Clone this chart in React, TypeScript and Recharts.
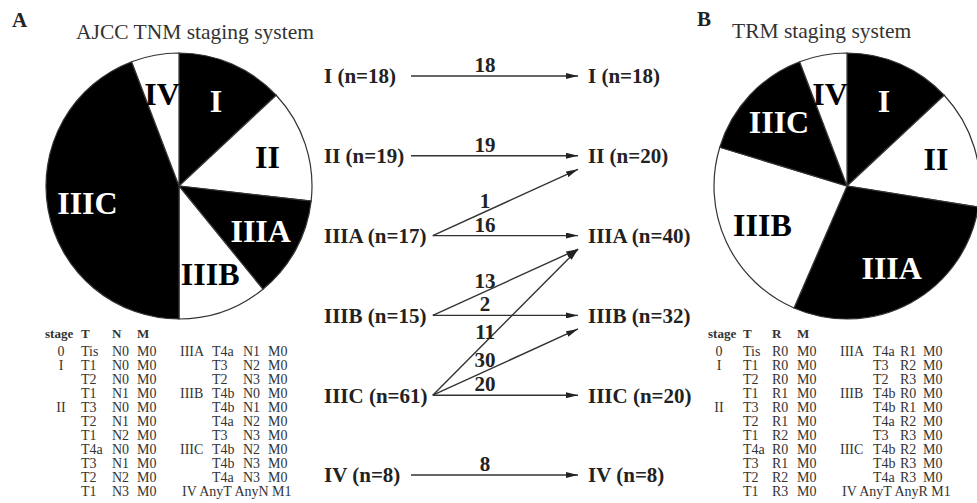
import React from "react";
import { PieChart, Pie, Cell, ComposedChart, Line, Scatter, XAxis, YAxis } from "recharts";

const SERIF = "'Liberation Serif', 'Times New Roman', serif";
const INK = "#222";

const STAGES = ["I", "II", "IIIA", "IIIB", "IIIC", "IV"];

// how the patients moved from the AJCC stage (left) to the TRM stage (right)
const FLOW_FROM = ["I", "II", "IIIA", "IIIA", "IIIB", "IIIB", "IIIC", "IIIC", "IIIC", "IV"];
const FLOW_TO = ["I", "II", "II", "IIIA", "IIIA", "IIIB", "IIIA", "IIIB", "IIIC", "IV"];
const FLOW_COUNT = [18, 19, 1, 16, 13, 2, 11, 30, 20, 8];

const SLICE_FILL = ["#000", "#fff", "#000", "#fff", "#000", "#fff"];

const AJCC_LEFT = [
  ["0", "Tis", "N0", "M0"], ["I", "T1", "N0", "M0"], ["", "T2", "N0", "M0"], ["", "T1", "N1", "M0"],
  ["II", "T3", "N0", "M0"], ["", "T2", "N1", "M0"], ["", "T1", "N2", "M0"], ["", "T4a", "N0", "M0"],
  ["", "T3", "N1", "M0"], ["", "T2", "N2", "M0"], ["", "T1", "N3", "M0"],
];
const AJCC_RIGHT = [
  ["IIIA", "T4a", "N1", "M0"], ["", "T3", "N2", "M0"], ["", "T2", "N3", "M0"], ["IIIB", "T4b", "N0", "M0"],
  ["", "T4b", "N1", "M0"], ["", "T4a", "N2", "M0"], ["", "T3", "N3", "M0"], ["IIIC", "T4b", "N2", "M0"],
  ["", "T4b", "N3", "M0"], ["", "T4a", "N3", "M0"],
];
const AJCC_LAST = "IV AnyT AnyN M1";

const TRM_LEFT = [
  ["0", "Tis", "R0", "M0"], ["I", "T1", "R0", "M0"], ["", "T2", "R0", "M0"], ["", "T1", "R1", "M0"],
  ["II", "T3", "R0", "M0"], ["", "T2", "R1", "M0"], ["", "T1", "R2", "M0"], ["", "T4a", "R0", "M0"],
  ["", "T3", "R1", "M0"], ["", "T2", "R2", "M0"], ["", "T1", "R3", "M0"],
];
const TRM_RIGHT = [
  ["IIIA", "T4a", "R1", "M0"], ["", "T3", "R2", "M0"], ["", "T2", "R3", "M0"], ["IIIB", "T4b", "R0", "M0"],
  ["", "T4b", "R1", "M0"], ["", "T4a", "R2", "M0"], ["", "T3", "R3", "M0"], ["IIIC", "T4b", "R2", "M0"],
  ["", "T4b", "R3", "M0"], ["", "T4a", "R3", "M0"],
];
const TRM_LAST = "IV AnyT AnyR M1";

// derived totals
const outN = STAGES.map((s) => FLOW_COUNT.reduce((a, c, i) => (FLOW_FROM[i] === s ? a + c : a), 0));
const inN = STAGES.map((s) => FLOW_COUNT.reduce((a, c, i) => (FLOW_TO[i] === s ? a + c : a), 0));
const branches = (s: string) => FLOW_FROM.filter((f) => f === s).length;

const ajccData = STAGES.map((s, i) => ({ name: s, value: outN[i] }));
const trmData = STAGES.map((s, i) => ({ name: s, value: inN[i] }));

// layout of the middle panel, in axis units
const SOLO_START = -0.15; // a straight run starts closer to its label than a fan does
const ARRIVE_OFFSET = 0.17; // crossing arrows land just under the target label
const LABEL_X = 0.36;

const flows = FLOW_FROM.map((f, i) => {
  const y0 = STAGES.indexOf(f);
  const t = STAGES.indexOf(FLOW_TO[i]);
  const y1 = t === y0 ? t : t + ARRIVE_OFFSET * Math.sign(y0 - t);
  const x0 = branches(f) > 1 ? 0 : SOLO_START;
  return {
    points: [{ x: x0, y: y0 }, { x: 1, y: y1 }],
    label: { x: LABEL_X, y: y0 + ((y1 - y0) * (LABEL_X - x0)) / (1 - x0), count: FLOW_COUNT[i] },
  };
});

const RAD = Math.PI / 180;
const pieLabel = (p: any) => {
  const r = p.outerRadius * 0.7;
  const x = p.cx + r * Math.cos(-p.midAngle * RAD);
  const y = p.cy + r * Math.sin(-p.midAngle * RAD);
  return (
    <text x={x} y={y} textAnchor="middle" dominantBaseline="central" fontFamily={SERIF}
      fontWeight="bold" fontSize={32} fill={SLICE_FILL[p.index] === "#000" ? "#fff" : "#000"}>
      {STAGES[p.index]}
    </text>
  );
};

function StagePie({ data }: { data: { name: string; value: number }[] }) {
  return (
    <PieChart width={280} height={280} margin={{ top: 0, right: 0, bottom: 0, left: 0 }}>
      <Pie data={data} dataKey="value" nameKey="name" cx={140} cy={140} outerRadius={133}
        startAngle={90} endAngle={-270} label={pieLabel} labelLine={false} isAnimationActive={false}>
        {data.map((d, i) => (
          <Cell key={d.name} fill={SLICE_FILL[i]} stroke="#333" strokeWidth={1.2} />
        ))}
      </Pie>
    </PieChart>
  );
}

const LEFT_W = 87;
const LeftTick = (p: any) => (
  <text x={p.x - LEFT_W} y={p.y} dy="0.35em" textAnchor="start" fontFamily={SERIF}
    fontWeight="bold" fontSize={21} fill={INK}>
    {`${STAGES[p.payload.value]} (n=${outN[p.payload.value]})`}
  </text>
);

const FlowLabel = (p: any) => (
  <text x={p.cx} y={p.cy - 4} textAnchor="middle" fontFamily={SERIF} fontWeight="bold"
    fontSize={21} fill={INK}>
    {p.payload.count}
  </text>
);

function StageTable({ x, cols, head, left, right, last }: any) {
  const top = 352;
  const step = 14;
  return (
    <g fontFamily={SERIF} fill="#333">
      <g fontWeight="bold" fontSize={13}>
        <text x={x} y={top - 14}>stage</text>
        <text x={cols[1]} y={top - 14}>T</text>
        <text x={cols[2]} y={top - 14}>{head}</text>
        <text x={cols[3]} y={top - 14}>M</text>
      </g>
      <g fontSize={14}>
        {left.map((r: string[], i: number) => (
          <g key={"l" + i}>
            <text x={cols[0]} y={top + 4 + i * step} textAnchor="middle">{r[0]}</text>
            <text x={cols[1]} y={top + 4 + i * step}>{r[1]}</text>
            <text x={cols[2]} y={top + 4 + i * step}>{r[2]}</text>
            <text x={cols[3]} y={top + 4 + i * step}>{r[3]}</text>
          </g>
        ))}
        {right.map((r: string[], i: number) => (
          <g key={"r" + i}>
            <text x={cols[4]} y={top + 4 + i * step}>{r[0]}</text>
            <text x={cols[5]} y={top + 4 + i * step}>{r[1]}</text>
            <text x={cols[6]} y={top + 4 + i * step}>{r[2]}</text>
            <text x={cols[7]} y={top + 4 + i * step}>{r[3]}</text>
          </g>
        ))}
        <text x={cols[4] + 2} y={top + 4 + 10 * step}>{last}</text>
      </g>
    </g>
  );
}

export default function App() {
  return (
    <div style={{ position: "absolute", left: 0, top: 0, width: 977, height: 503, overflow: "hidden", background: "#fff" }}>
      <div style={{ position: "absolute", left: 39, top: 46 }}>
        <StagePie data={ajccData} />
      </div>
      <div style={{ position: "absolute", left: 707, top: 46 }}>
        <StagePie data={trmData} />
      </div>

      <div style={{ position: "absolute", left: 0, top: 0 }}>
        <ComposedChart width={977} height={503} margin={{ top: 76, right: 259, bottom: 28, left: 324 }}>
          <XAxis type="number" dataKey="x" domain={[SOLO_START, 1]} hide />
          <YAxis yAxisId="left" type="number" domain={[0, 5]} reversed
            ticks={[0, 1, 2, 3, 4, 5]} interval={0} width={LEFT_W} tickSize={0} tickMargin={0}
            axisLine={false} tickLine={false} tick={<LeftTick />} />
          <YAxis yAxisId="right" orientation="right" type="number" domain={[0, 5]} reversed allowDataOverflow
            ticks={[0, 1, 2, 3, 4, 5]} interval={0} width={140} tickSize={0} tickMargin={10}
            axisLine={false} tickLine={false}
            tickFormatter={(v: number) => `${STAGES[v]} (n=${inN[v]})`}
            tick={{ fontFamily: SERIF, fontWeight: "bold", fontSize: 21, fill: INK }} />
          {flows.map((f, i) => (
            <Line key={i} yAxisId="left" data={f.points} dataKey="y" type="linear" stroke="#333"
              strokeWidth={1.4} dot={false} activeDot={false} markerEnd="url(#flowArrow)"
              isAnimationActive={false} />
          ))}
          <Scatter yAxisId="left" data={flows.map((f) => f.label)} dataKey="y" shape={<FlowLabel />}
            isAnimationActive={false} />
        </ComposedChart>
      </div>

      <svg width={977} height={503} style={{ position: "absolute", left: 0, top: 0, pointerEvents: "none" }}>
        <defs>
          <marker id="flowArrow" viewBox="0 0 12 6" refX={12} refY={3} markerWidth={12} markerHeight={6}
            markerUnits="userSpaceOnUse" orient="auto">
            <path d="M0,0 L12,3 L0,6 z" fill="#222" />
          </marker>
        </defs>
        <text x={12} y={27} fontFamily={SERIF} fontWeight="bold" fontSize={21} fill={INK}>A</text>
        <text x={76} y={39} fontFamily={SERIF} fontSize={21.5} fill="#333">AJCC TNM staging system</text>
        <text x={697} y={26} fontFamily={SERIF} fontWeight="bold" fontSize={21} fill={INK}>B</text>
        <text x={732} y={38} fontFamily={SERIF} fontSize={21.5} fill="#333">TRM staging system</text>

        <StageTable x={45} head="N" cols={[61, 81, 112, 137, 180, 212, 243, 268]}
          left={AJCC_LEFT} right={AJCC_RIGHT} last={AJCC_LAST} />
        <StageTable x={708} head="R" cols={[719, 743, 772, 797, 840, 873, 900, 923]}
          left={TRM_LEFT} right={TRM_RIGHT} last={TRM_LAST} />
      </svg>
    </div>
  );
}
